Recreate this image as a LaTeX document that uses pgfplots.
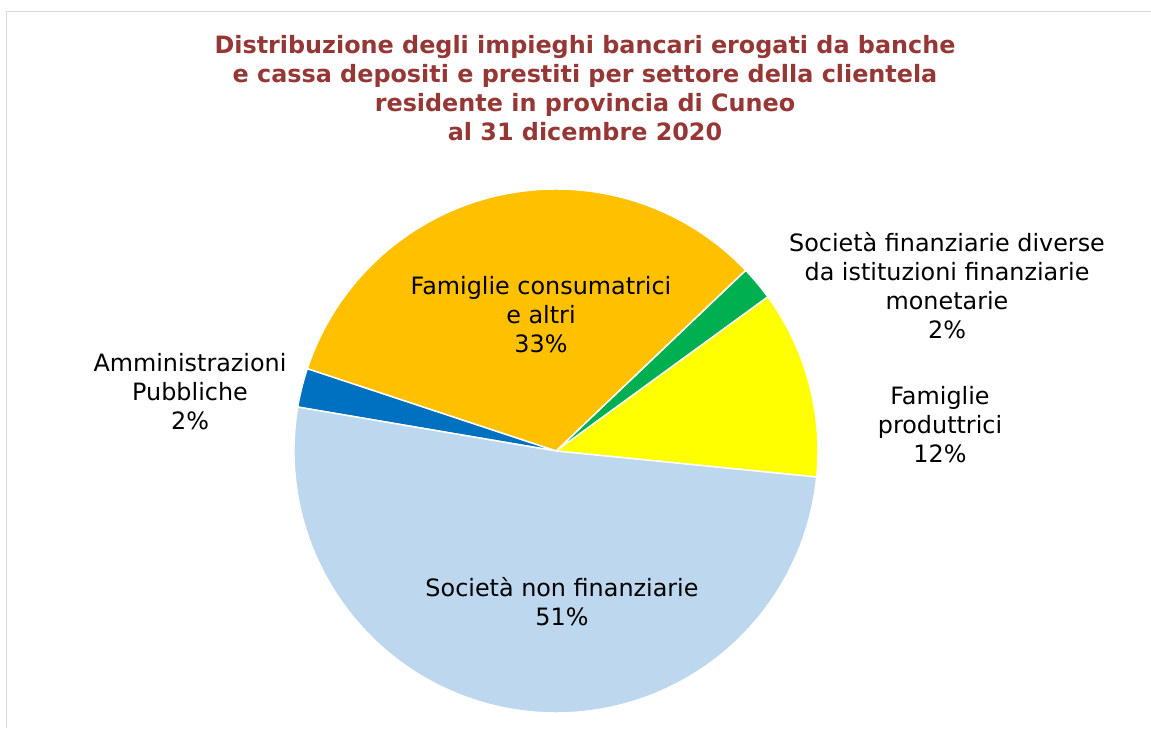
\documentclass[border=0pt]{standalone}
\usepackage{fontspec}
\setmainfont{DejaVu Sans}
\usepackage{pgfplots}
\usepackage{pgfplotstable}
\pgfplotsset{compat=1.18}

\definecolor{titlered}{RGB}{149,55,53}
\definecolor{frame}{RGB}{217,217,217}
% slice colours, same order as the table
\definecolor{col0}{RGB}{255,255,0}
\definecolor{col1}{RGB}{0,176,80}
\definecolor{col2}{RGB}{255,192,0}
\definecolor{col3}{RGB}{0,112,192}
\definecolor{col4}{RGB}{189,215,238}

\tikzset{lbl/.style={align=center, font=\fontsize{17.9}{21.75}\selectfont, text=black}}

% shares in %, counterclockwise from the start angle
\pgfplotstableread{
sector value
FamProd 11.6
SocFin 2.1
FamCons 32.8
AmmPub 2.4
SocNonFin 51.1
}\piedata

\begin{document}
\begin{tikzpicture}
% cumulative angles of the slices
\xdef\cum{-5.7}
\foreach \i in {0,...,4}{
  \pgfplotstablegetelem{\i}{value}\of\piedata
  \pgfmathsetmacro\nxt{\cum+3.6*\pgfplotsretval}
  \expandafter\xdef\csname angs\i\endcsname{\cum}
  \expandafter\xdef\csname ange\i\endcsname{\nxt}
  \xdef\cum{\nxt}
}
\useasboundingbox (0,0) rectangle (863.25pt,546pt);
\begin{axis}[
  at={(0,0)}, anchor=south west,
  scale only axis,
  x=0.75pt, y=0.75pt,
  xmin=0, xmax=1151, ymin=0, ymax=728,
  hide axis, clip=false,
]
\draw[frame, line width=1.2pt] (axis cs:6.5,0) -- (axis cs:6.5,716.5) -- (axis cs:1151,716.5);

\pgfplotsinvokeforeach{0,...,4}{
  \fill[col#1, draw=white, line width=1.1pt, line join=round]
    (axis cs:556,277) -- ++(\csname angs#1\endcsname:196.5pt)
    arc[start angle=\csname angs#1\endcsname, end angle=\csname ange#1\endcsname, radius=196.5pt] -- cycle;
}

\node[align=center, text=titlered, font=\bfseries\fontsize{17.9}{21.75}\selectfont]
  at (axis cs:585,640) {Distribuzione degli impieghi bancari erogati da banche\\
  e cassa depositi e prestiti per settore della clientela\\
  residente in provincia di Cuneo\\al 31 dicembre 2020};

\node[lbl] at (axis cs:541,413) {Famiglie consumatrici\\e altri\\33\%};
\node[lbl] at (axis cs:947,442) {Società finanziarie diverse\\da istituzioni finanziarie\\monetarie\\2\%};
\node[lbl] at (axis cs:940,303) {Famiglie\\produttrici\\12\%};
\node[lbl] at (axis cs:190,336) {Amministrazioni\\Pubbliche\\2\%};
\node[lbl] at (axis cs:562,126) {Società non finanziarie\\51\%};
\end{axis}
\end{tikzpicture}
\end{document}
